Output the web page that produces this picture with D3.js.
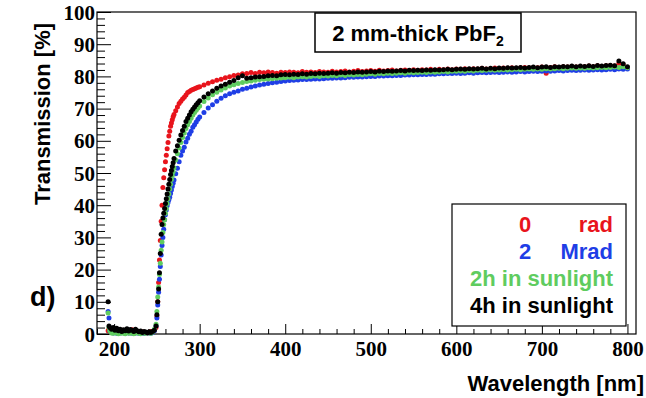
<!DOCTYPE html>
<html>
<head>
<meta charset="utf-8">
<script src="https://cdnjs.cloudflare.com/ajax/libs/d3/7.8.5/d3.min.js"></script>
<style>
  body { margin: 0; background: #fff; }
  svg { display: block; }
</style>
</head>
<body>
<div id="graphic"></div>
<script>
// wavelength grid [nm], shared by all four measurements
var wavelengths = [
  193, 194, 195, 197, 199, 201, 203, 205, 207, 209, 211, 213, 215, 217, 219, 221, 223, 225, 227, 229,
  231, 233, 235, 237, 239, 241, 243, 245, 247, 249,
  250, 251, 252, 253, 254, 255, 256, 257, 258, 259, 260, 261, 262, 263, 264, 265, 266, 267, 268, 269, 270,
  272, 274, 276, 278, 280, 282, 284, 286, 288, 290, 292, 294, 296, 298, 300,
  305, 310, 315, 320, 325, 330, 335, 340, 345, 350, 355, 360, 365, 370, 375, 380, 385, 390, 395, 400,
  405, 410, 415, 420, 425, 430, 435, 440, 445, 450, 455, 460, 465, 470, 475, 480, 485, 490, 495, 500,
  505, 510, 515, 520, 525, 530, 535, 540, 545, 550, 555, 560, 565, 570, 575, 580, 585, 590, 595, 600,
  605, 610, 615, 620, 625, 630, 635, 640, 645, 650, 655, 660, 665, 670, 675, 680, 685, 690, 695, 700,
  705, 710, 715, 720, 725, 730, 735, 740, 745, 750, 755, 760, 765, 770, 775, 780, 785, 790, 795, 800
];

// transmission [%]
var rad0 = [
  1, 1.5, 1, 0.5, 1.2, 0.8, 1.5, 1, 0.6, 1.2, 0.5, 1, 0.8, 0.4, 1, 1.3, 0.6, 0.4, 0.8, 0.5,
  0.3, 0.6, 0.4, 0.5, 0.3, 0.5, 0.8, 0.6, 1.2, 2,
  5.6, 10, 16, 23, 29, 35, 40, 45.5, 48.5, 51, 53.5, 55.5, 57.5, 59.5, 61.5, 63, 64.5, 65.5, 66.5, 67.5, 68.2,
  69.3, 70.5, 71.6, 72.3, 73, 73.5, 74.2, 75, 75.3, 75.7, 75.9, 76.2, 76.4, 76.6, 76.8,
  77.3, 77.9, 78.3, 78.8, 79.1, 79.6, 79.9, 80.3, 80.4, 80.8, 80.9, 81.2, 80.9, 81.3, 81.1, 81.4, 81.2, 81.0, 81.3, 81.2,
  81.4, 81.3, 81.1, 81.5, 81.3, 81.4, 81.2, 81.5, 81.4, 81.3, 81.6, 81.4, 81.5, 81.7, 81.4, 81.6, 81.8, 81.5, 81.7, 81.8,
  81.6, 81.9, 81.7, 81.8, 82.0, 81.7, 81.9, 82.0, 81.8, 82.1, 81.9, 82.1, 82.0, 82.2, 81.9, 82.2, 82.1, 82.3, 82.1, 82.3,
  82.2, 82.4, 82.2, 82.4, 82.3, 82.5, 82.3, 82.4, 82.6, 82.4, 82.6, 82.5, 82.7, 82.5, 82.7, 82.8, 82.6, 82.8, 82.7, 82.9,
  81.0, 82.8, 83.0, 82.8, 83.0, 82.9, 83.1, 82.9, 83.1, 83.0, 83.2, 83.0, 83.3, 83.1, 83.3, 83.4, 83.2, 84.0, 83.6, 82.6
];
var mrad2 = [
  7, 5, 1, 0.5, 0.3, 0.8, 0.2, 0.5, 0.3, 0.8, 0.4, 0.2, 0.6, 0.3, 0.5, 0.2, 0.6, 0.3, 0.4, 0.2,
  0.5, 0.3, 0.2, 0.5, 0.3, 0.4, 0.2, 0.5, 1, 2.5,
  5, 9, 13, 17, 21, 24.5, 27.5, 30, 32.5, 35.5, 37, 38.5, 39.8, 40.8, 41.7, 42.5, 43.6, 44.7, 45.8, 46.8, 47.8,
  49.8, 51.5, 53.5, 55.5, 56.8, 58, 59.6, 60.8, 62, 63, 64.2, 65, 65.8, 66.7, 67.4,
  68.8, 70.2, 71.2, 72.3, 73.2, 74.0, 74.6, 75.1, 75.5, 76.0, 76.3, 76.7, 77.0, 77.3, 77.6, 77.8, 78.0, 78.2, 78.4, 78.6,
  78.7, 78.8, 78.9, 79.0, 79.0, 79.1, 79.2, 79.2, 79.3, 79.4, 79.4, 79.5, 79.5, 79.6, 79.7, 79.7, 79.8, 79.8, 79.9, 80.0,
  80.0, 80.1, 80.1, 80.2, 80.2, 80.3, 80.3, 80.4, 80.4, 80.5, 80.5, 80.6, 80.6, 80.7, 80.7, 80.8, 80.8, 80.9, 80.9, 81.0,
  80.9, 81.0, 81.1, 81.0, 81.1, 81.2, 81.1, 81.2, 81.3, 81.2, 81.3, 81.4, 81.3, 81.4, 81.5, 81.4, 81.5, 81.6, 81.5, 81.6,
  81.7, 81.6, 81.7, 81.8, 81.7, 81.8, 81.9, 81.8, 81.9, 82.0, 81.9, 82.0, 82.1, 82.0, 82.1, 82.2, 82.1, 82.3, 82.2, 82.3
];
var sun2h = [
  6.5, 2, 1, 0.3, 0.2, 1, 0.3, 0.1, 0.6, 0.2, 0.4, 0.1, 0.8, 0.3, 0.2, 0.5, 0.1, 0.3, 0.6, 0.2,
  0.1, 0.4, 0.3, 0.2, 0.5, 0.3, 0.2, 0.6, 1.5, 3,
  7, 11.5, 14.6, 18.5, 22, 26, 28.6, 31.5, 34, 35.5, 37.5, 39, 40.5, 42, 43.5, 45, 46.5, 48, 49.2, 50.4, 51.6,
  54, 56, 57.8, 59.5, 61, 62.4, 63.8, 65, 66, 67, 68, 68.8, 69.5, 70.2, 70.8,
  72.2, 73.3, 74.3, 75.1, 75.8, 76.4, 77.0, 77.4, 77.8, 78.1, 78.4, 78.6, 78.8, 79.0, 79.1, 79.2, 79.3, 79.4, 79.5, 79.6,
  79.7, 79.6, 79.8, 79.9, 79.8, 80.0, 80.1, 80.0, 80.2, 80.1, 80.3, 80.2, 80.4, 80.3, 80.5, 80.4, 80.6, 80.5, 80.7, 80.8,
  80.7, 80.9, 80.8, 81.0, 80.9, 81.0, 81.1, 81.0, 81.2, 81.1, 81.2, 81.3, 81.2, 81.4, 81.3, 81.4, 81.5, 81.4, 81.6, 81.6,
  81.7, 81.6, 81.8, 81.7, 81.9, 81.8, 81.9, 82.0, 81.9, 82.0, 82.1, 82.0, 82.1, 82.2, 82.1, 82.2, 82.3, 82.2, 82.3, 82.2,
  82.4, 82.3, 82.4, 82.5, 82.4, 82.5, 82.6, 82.5, 82.6, 82.5, 82.7, 82.6, 82.7, 82.8, 82.7, 82.8, 82.9, 82.8, 83.0, 82.7
];
var sun4h = [
  10, 2.5, 2, 1.5, 2, 1.2, 1.8, 1, 1.5, 0.8, 1.3, 1, 1.6, 0.9, 1.4, 1.2, 0.8, 1.5, 1, 0.7,
  0.9, 0.5, 0.8, 0.6, 0.4, 0.7, 0.5, 0.8, 1.2, 2.5,
  6, 10, 14, 19, 25, 31, 34, 36, 37.5, 39, 40.5, 42, 43.5, 45, 46.5, 48, 49.5, 50.8, 52, 53.2, 54.5,
  56.8, 58.5, 60.2, 61.8, 63.2, 64.5, 66, 67, 68, 69, 69.8, 70.5, 71.2, 71.8, 72.4,
  73.6, 74.6, 75.5, 76.3, 77.0, 77.6, 78.2, 78.7, 79.6, 80.2, 79.4, 79.6, 79.8, 79.9, 80.0, 80.2, 80.3, 80.2, 80.5, 80.6,
  80.5, 80.7, 80.6, 80.8, 80.7, 80.9, 80.8, 81.0, 80.9, 81.0, 81.1, 81.0, 81.2, 81.1, 81.3, 81.2, 81.4, 81.3, 81.4, 81.5,
  81.4, 81.6, 81.5, 81.7, 81.6, 81.7, 81.8, 81.7, 81.9, 81.8, 81.9, 81.8, 82.0, 81.9, 82.1, 82.0, 82.1, 82.2, 82.1, 82.2,
  82.3, 82.2, 82.4, 82.3, 82.4, 82.5, 82.3, 82.5, 82.4, 82.6, 82.5, 82.7, 82.6, 82.7, 82.8, 82.6, 82.8, 82.9, 82.7, 82.9,
  83.0, 82.8, 83.0, 82.9, 83.1, 83.0, 83.2, 83.0, 83.2, 83.1, 83.3, 83.1, 83.4, 83.2, 83.4, 83.5, 83.3, 84.8, 83.9, 83.0
];

var xTicks = [200, 300, 400, 500, 600, 700, 800];
var yTicks = [0, 10, 20, 30, 40, 50, 60, 70, 80, 90, 100];

var series = [
  { values: rad0, color: "#e8141c" },
  { values: mrad2, color: "#1f3ee6" },
  { values: sun2h, color: "#5fcc5f" },
  { values: sun4h, color: "#000000" }
];

var W = 646, H = 398;
var frame = { left: 97, right: 636, top: 12, bottom: 334 };

var x = d3.scaleLinear().domain([180, 810]).range([frame.left, frame.right]);
var y = d3.scaleLinear().domain([0, 100]).range([frame.bottom, frame.top]);

var svg = d3.select("#graphic").append("svg")
  .attr("width", W)
  .attr("height", H);

// frame
svg.append("rect")
  .attr("x", frame.left)
  .attr("y", frame.top)
  .attr("width", frame.right - frame.left)
  .attr("height", frame.bottom - frame.top)
  .attr("fill", "none")
  .attr("stroke", "#000")
  .attr("stroke-width", 1.2);

// x axis: ticks pointing up into the plot
var xMinor = d3.range(180, 811, 20).filter(function (d) { return xTicks.indexOf(d) < 0; });
svg.append("g")
  .attr("transform", "translate(0," + frame.bottom + ")")
  .call(d3.axisTop(x).tickValues(xMinor).tickSize(5).tickFormat("").tickSizeOuter(0))
  .call(function (g) { g.select(".domain").remove(); });
var xAxis = svg.append("g")
  .attr("transform", "translate(0," + frame.bottom + ")")
  .call(d3.axisTop(x).tickValues(xTicks).tickSize(10).tickSizeOuter(0));
xAxis.select(".domain").remove();
xAxis.selectAll("text")
  .attr("y", 22)
  .attr("dy", 0)
  .attr("font-family", "'Liberation Serif', 'Times New Roman', serif")
  .attr("font-weight", "bold")
  .attr("font-size", 21);

// y axis: ticks pointing right into the plot
var yMinor = d3.range(0, 101, 2).filter(function (d) { return d % 10 !== 0; });
svg.append("g")
  .attr("transform", "translate(" + frame.left + ",0)")
  .call(d3.axisRight(y).tickValues(yMinor).tickSize(8).tickFormat("").tickSizeOuter(0))
  .call(function (g) { g.select(".domain").remove(); });
var yAxis = svg.append("g")
  .attr("transform", "translate(" + frame.left + ",0)")
  .call(d3.axisRight(y).tickValues(yTicks).tickSize(14).tickSizeOuter(0));
yAxis.select(".domain").remove();
yAxis.selectAll("text")
  .attr("x", -2)
  .attr("dy", "0.34em")
  .attr("text-anchor", "end")
  .attr("font-family", "'Liberation Serif', 'Times New Roman', serif")
  .attr("font-weight", "bold")
  .attr("font-size", 21);
svg.selectAll(".tick line").attr("stroke", "#000");

// data points
series.forEach(function (s) {
  svg.append("g")
    .selectAll("circle")
    .data(wavelengths)
    .enter().append("circle")
    .attr("cx", function (d) { return x(d); })
    .attr("cy", function (d, i) { return y(s.values[i]); })
    .attr("r", 2.5)
    .attr("fill", s.color);
});

var sans = "'Liberation Sans', Arial, Helvetica, sans-serif";

// title box
svg.append("rect")
  .attr("x", 315).attr("y", 13)
  .attr("width", 206).attr("height", 39)
  .attr("fill", "#fff")
  .attr("stroke", "#000")
  .attr("stroke-width", 1.5);
var title = svg.append("text")
  .attr("x", 418).attr("y", 41)
  .attr("text-anchor", "middle")
  .attr("font-family", sans)
  .attr("font-weight", "bold")
  .attr("font-size", 22);
title.append("tspan").text("2 mm-thick PbF");
title.append("tspan").attr("font-size", 14).attr("dy", 5).text("2");

// legend
svg.append("rect")
  .attr("x", 452).attr("y", 204)
  .attr("width", 174).attr("height", 122)
  .attr("fill", "#fff")
  .attr("stroke", "#000")
  .attr("stroke-width", 1.2);

var legendRows = [
  { left: "0", right: "rad", color: series[0].color },
  { left: "2", right: "Mrad", color: series[1].color },
  { left: "", right: "2h in sunlight", color: series[2].color },
  { left: "", right: "4h in sunlight", color: series[3].color }
];
legendRows.forEach(function (r, i) {
  var by = 232 + i * 27;
  svg.append("text")
    .attr("x", 613).attr("y", by)
    .attr("text-anchor", "end")
    .attr("font-family", sans)
    .attr("font-weight", "bold")
    .attr("font-size", 22)
    .attr("fill", r.color)
    .text(r.right);
  if (r.left) {
    svg.append("text")
      .attr("x", 525).attr("y", by)
      .attr("text-anchor", "middle")
      .attr("font-family", sans)
      .attr("font-weight", "bold")
      .attr("font-size", 22)
      .attr("fill", r.color)
      .text(r.left);
  }
});

// axis titles
svg.append("text")
  .attr("x", 644).attr("y", 391)
  .attr("text-anchor", "end")
  .attr("font-family", sans)
  .attr("font-weight", "bold")
  .attr("font-size", 22)
  .text("Wavelength [nm]");

svg.append("text")
  .attr("transform", "translate(50,114) rotate(-90)")
  .attr("text-anchor", "middle")
  .attr("font-family", sans)
  .attr("font-weight", "bold")
  .attr("font-size", 22)
  .text("Transmission [%]");

svg.append("text")
  .attr("x", 30).attr("y", 306)
  .attr("font-family", sans)
  .attr("font-weight", "bold")
  .attr("font-size", 27)
  .text("d)");
</script>
</body>
</html>
